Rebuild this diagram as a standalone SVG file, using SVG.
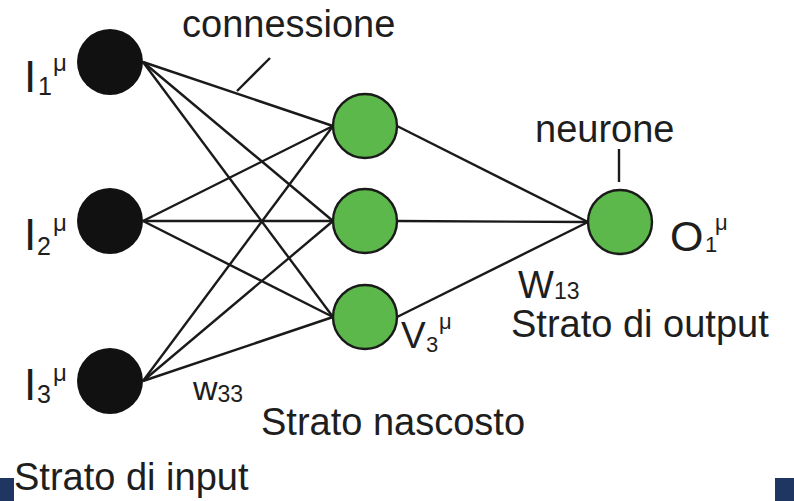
<svg xmlns="http://www.w3.org/2000/svg" width="794" height="501" viewBox="0 0 794 501">
  <style>
    text { font-family: "Liberation Sans", Arial, sans-serif; fill: #1e1e1e; }
    .conn { stroke: #1a1a1a; stroke-width: 2.4; fill: none; }
    .in { fill: #111111; }
    .hid { fill: #5cb84a; stroke: #1a1a1a; stroke-width: 2.4; }
    .lbl { font-size: 44px; }
    .sub { font-size: 25px; }
    .mu { font-size: 24px; }
    .big { font-size: 38px; }
  </style>
  <rect width="794" height="501" fill="#ffffff"/>
  <g id="connectors">
    <line class="conn" x1="143" y1="62" x2="333" y2="126"/>
    <line class="conn" x1="143" y1="62" x2="333" y2="221"/>
    <line class="conn" x1="143" y1="62" x2="333" y2="317"/>
    <line class="conn" x1="143" y1="221" x2="333" y2="126"/>
    <line class="conn" x1="143" y1="221" x2="333" y2="221"/>
    <line class="conn" x1="143" y1="221" x2="333" y2="317"/>
    <line class="conn" x1="143" y1="381" x2="333" y2="126"/>
    <line class="conn" x1="143" y1="381" x2="333" y2="221"/>
    <line class="conn" x1="143" y1="381" x2="333" y2="317"/>
    <line class="conn" x1="397" y1="126" x2="588" y2="222"/>
    <line class="conn" x1="397" y1="221" x2="588" y2="222"/>
    <line class="conn" x1="397" y1="317" x2="588" y2="222"/>
    <line class="conn" x1="270" y1="58" x2="237" y2="91"/>
    <line class="conn" x1="619" y1="149" x2="619" y2="182"/>
  </g>
  <g id="input1">
    <circle class="in" cx="110" cy="62" r="33"/>
    <text class="lbl" x="24" y="92">I</text>
    <text class="sub" x="38" y="95">1</text>
    <text class="mu" x="53" y="71">μ</text>
  </g>
  <g id="input2">
    <circle class="in" cx="110" cy="221" r="33"/>
    <text class="lbl" x="24" y="250">I</text>
    <text class="sub" x="37" y="255">2</text>
    <text class="mu" x="53" y="231">μ</text>
  </g>
  <g id="input3">
    <circle class="in" cx="110" cy="381" r="33"/>
    <text class="lbl" x="24" y="400">I</text>
    <text class="sub" x="37" y="403">3</text>
    <text class="mu" x="53" y="381">μ</text>
  </g>
  <g id="hidden1">
    <circle class="hid" cx="365" cy="126" r="32"/>
  </g>
  <g id="hidden2">
    <circle class="hid" cx="365" cy="221" r="32"/>
  </g>
  <g id="hidden3">
    <circle class="hid" cx="365" cy="317" r="32"/>
    <text x="401" y="348" style="font-size:37px">V</text>
    <text x="426" y="352" style="font-size:22px">3</text>
    <text x="439" y="329" style="font-size:22px">μ</text>
  </g>
  <g id="output1">
    <circle class="hid" cx="620" cy="222" r="32"/>
    <text x="670" y="251" style="font-size:43px">O</text>
    <text x="705" y="252" style="font-size:22px">1</text>
    <text x="715" y="230" style="font-size:22px">μ</text>
  </g>
  <g id="labels">
    <text class="big" x="182" y="37">connessione</text>
    <text class="big" x="535" y="142">neurone</text>
    <text class="big" x="518" y="298">W<tspan style="font-size:23px" dy="1">13</tspan></text>
    <text x="193" y="400" style="font-size:34px">w<tspan style="font-size:23px" dy="2">33</tspan></text>
    <text class="big" x="511" y="337">Strato di output</text>
    <text class="big" x="261" y="435">Strato nascosto</text>
    <text class="big" x="14" y="490">Strato di input</text>
  </g>
  <rect x="0" y="478" width="14" height="23" fill="#1f3562"/>
  <rect x="775" y="478" width="19" height="23" fill="#1f3562"/>
</svg>
